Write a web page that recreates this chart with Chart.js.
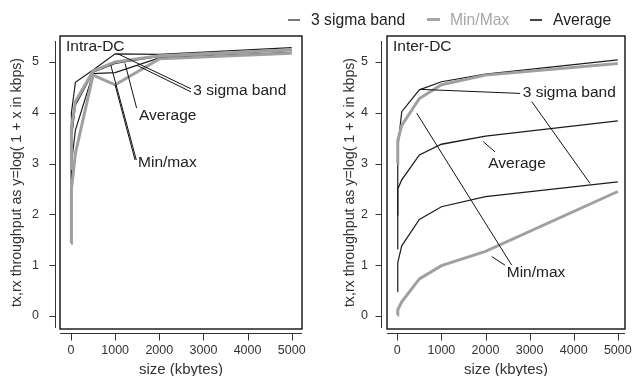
<!DOCTYPE html>
<html>
<head>
<meta charset="utf-8">
<script src="https://cdn.jsdelivr.net/npm/chart.js@4.4.1/dist/chart.umd.min.js"></script>
<style>
html,body{margin:0;padding:0;background:#fff;}
#wrap{position:relative;width:632px;height:376px;overflow:hidden;background:#fff;font-family:"Liberation Sans",Arial,sans-serif;}
.pane{position:absolute;top:0;width:316px;height:376px;}
.lg{position:absolute;}
.lgt{position:absolute;top:10px;font-size:15.7px;line-height:20px;white-space:nowrap;}
</style>
</head>
<body>
<div id="wrap">
  <div class="pane" style="left:0"><canvas id="c1" width="316" height="376"></canvas></div>
  <div class="pane" style="left:316px"><canvas id="c2" width="316" height="376"></canvas></div>
  <div id="legend">
    <span class="lg" style="left:288px;top:19px;width:12px;height:2px;background:#777"></span>
    <span class="lgt" id="lg1" style="left:311px;color:#222"></span>
    <span class="lg" style="left:427px;top:18px;width:13px;height:3px;background:#a6a6a6"></span>
    <span class="lgt" id="lg2" style="left:450px;color:#a6a6a6"></span>
    <span class="lg" style="left:530px;top:19px;width:12px;height:2px;background:#444"></span>
    <span class="lgt" id="lg3" style="left:553px;color:#222"></span>
  </div>
</div>
<script>
// ---------- data ----------
const sizes = [1, 10, 100, 500, 1000, 2000, 5000];
const xTicks = [0, 1000, 2000, 3000, 4000, 5000];
const yTicks = [0, 1, 2, 3, 4, 5];
const legendNames = ["3 sigma band", "Min/Max", "Average"];

// Intra-DC
const intraMin   = [1.43, 2.5, 3.2, 4.74, 4.55, 5.06, 5.17];
const intraLower = [1.9, 3.0, 3.66, 4.77, 4.79, 5.08, 5.19];
const intraAvg   = [2.25, 3.5, 4.15, 4.8, 4.97, 5.11, 5.23];
const intraUpper = [2.6, 4.0, 4.6, 4.84, 5.16, 5.15, 5.28];
const intraMax   = [2.9, 3.7, 4.22, 4.82, 5.0, 5.12, 5.24];

// Inter-DC
const interMin   = [0.02, 0.12, 0.28, 0.73, 0.99, 1.27, 2.45];
const interLower = [0.48, 1.05, 1.38, 1.9, 2.15, 2.35, 2.64];
const interAvg   = [1.99, 2.5, 2.68, 3.17, 3.38, 3.54, 3.84];
const interUpper = [1.32, 3.3, 4.02, 4.45, 4.61, 4.76, 5.04];
const interMax   = [3.0, 3.45, 3.75, 4.28, 4.55, 4.74, 4.97];

// annotation texts and leader anchors (data units)
const intraNotes = [
  {text: "3 sigma band", at: [2770, 4.44], lines: [[[2720, 4.47], [1060, 5.16]], [[2720, 4.41], [1500, 4.93]]]},
  {text: "Average", at: [1540, 3.94], lines: [[[1487, 4.09], [1224, 4.97]]]},
  {text: "Min/max", at: [1520, 3.01], lines: [[[1451, 3.07], [998, 4.55]], [[1480, 3.07], [900, 4.94]]]}
];
const interNotes = [
  {text: "3 sigma band", at: [2844, 4.39], lines: [[[2785, 4.38], [515, 4.46]], [[3048, 4.22], [4370, 2.61]]]},
  {text: "Average", at: [2063, 2.99], lines: [[[1950, 3.43], [2215, 3.23]]]},
  {text: "Min/max", at: [2481, 0.86], lines: [[[2594, 1.0], [440, 3.99]], [[2442, 1.0], [2140, 1.17]]]}
];

document.getElementById('lg1').textContent = legendNames[0];
document.getElementById('lg2').textContent = legendNames[1];
document.getElementById('lg3').textContent = legendNames[2];

const FAM = '"Liberation Sans", Arial, sans-serif';
const GRAY = '#a0a0a0';
const BLACK = '#1c1c1c';

function pts(arr) { return sizes.map((s, i) => ({x: s, y: arr[i]})); }

const frame = {
  id: 'frame',
  afterDraw(chart, args, o) {
    const {ctx, chartArea: a, scales: {x, y}} = chart;
    ctx.save();
    // box
    ctx.strokeStyle = '#111';
    ctx.lineWidth = 1.4;
    ctx.strokeRect(a.left, a.top, a.right - a.left, a.bottom - a.top);
    // detached axes
    ctx.lineWidth = 1;
    ctx.strokeStyle = '#333';
    ctx.beginPath();
    const ax = Math.round(a.left - o.yGap) + 0.5;
    ctx.moveTo(ax, a.top + 5); ctx.lineTo(ax, a.bottom - 1);
    y.ticks.forEach(t => { const py = Math.round(y.getPixelForValue(t.value)) + 0.5; ctx.moveTo(ax, py); ctx.lineTo(ax - 6, py); });
    const ay = Math.round(a.bottom + 4) + 0.5;
    ctx.moveTo(a.left, ay); ctx.lineTo(a.right, ay);
    x.ticks.forEach(t => { const px = Math.round(x.getPixelForValue(t.value)) + 0.5; ctx.moveTo(px, ay); ctx.lineTo(px, ay + 7); });
    ctx.stroke();
    // panel label
    ctx.fillStyle = '#222';
    ctx.font = '15.5px ' + FAM;
    ctx.textBaseline = 'middle';
    ctx.textAlign = 'left';
    ctx.fillText(o.label, a.left + 6, a.top + 11);
    // annotations
    ctx.strokeStyle = '#111';
    ctx.lineWidth = 1;
    ctx.beginPath();
    o.notes.forEach(n => {
      n.lines.forEach(l => {
        ctx.moveTo(x.getPixelForValue(l[0][0]), y.getPixelForValue(l[0][1]));
        ctx.lineTo(x.getPixelForValue(l[1][0]), y.getPixelForValue(l[1][1]));
      });
    });
    ctx.stroke();
    ctx.fillStyle = '#222';
    o.notes.forEach(n => {
      ctx.fillText(n.text, x.getPixelForValue(n.at[0]), y.getPixelForValue(n.at[1]));
    });
    ctx.restore();
  }
};

function makeChart(id, d, cfg) {
  const thin = (data) => ({data: pts(data), borderColor: BLACK, borderWidth: 1.2, pointRadius: 0, fill: false, tension: 0});
  const thick = (data) => ({data: pts(data), borderColor: GRAY, borderWidth: 3, pointRadius: 0, fill: false, tension: 0});
  return new Chart(document.getElementById(id), {
    type: 'line',
    data: {
      datasets: [
        Object.assign(thick(d.min), {label: 'Min'}),
        Object.assign(thick(d.max), {label: 'Max'}),
        Object.assign(thin(d.lower), {label: 'Lower 3 sigma'}),
        Object.assign(thin(d.upper), {label: 'Upper 3 sigma'}),
        Object.assign(thin(d.avg), {label: 'Average', borderWidth: 1.3})
      ]
    },
    options: {
      responsive: false,
      animation: false,
      layout: {padding: {left: 0, right: cfg.padRight, top: 36, bottom: 0}},
      plugins: {
        legend: {display: false},
        tooltip: {enabled: false},
        frame: {yGap: cfg.yGap, label: cfg.label, notes: cfg.notes}
      },
      scales: {
        x: {
          type: 'linear', min: cfg.xMin, max: cfg.xMax,
          afterBuildTicks: s => { s.ticks = xTicks.map(v => ({value: v})); },
          afterFit: s => { s.height = 47; s.paddingLeft = 0; s.paddingRight = 0; },
          grid: {display: false, drawTicks: false},
          border: {display: false},
          ticks: {padding: 14, color: '#333', font: {size: 12.5, family: FAM}, maxRotation: 0, autoSkip: false, callback: v => String(v)},
          title: {display: true, text: 'size (kbytes)', color: '#333', font: {size: 15, family: FAM, lineHeight: 0.8}, padding: {top: 0, bottom: 0}}
        },
        y: {
          type: 'linear', min: -0.256, max: 5.51,
          afterBuildTicks: s => { s.ticks = yTicks.map(v => ({value: v})); },
          afterFit: s => { s.width = cfg.yWidth; s.paddingTop = 0; s.paddingBottom = 0; },
          grid: {display: false, drawTicks: false},
          border: {display: false},
          ticks: {padding: cfg.yPad, color: '#333', font: {size: 12.5, family: FAM}, autoSkip: false, callback: v => String(v)},
          title: {display: true, text: 'tx,rx throughput as y=log( 1 + x in kbps)', color: '#333', font: {size: 14.2, family: FAM, lineHeight: 1}, padding: {top: cfg.yTitlePad, bottom: 0}}
        }
      }
    },
    plugins: [frame]
  });
}

makeChart('c1',
  {min: intraMin, lower: intraLower, avg: intraAvg, upper: intraUpper, max: intraMax},
  {xMin: -249, xMax: 5233, padRight: 14, yWidth: 60, yPad: 21, yGap: 5, yTitlePad: 10, label: 'Intra-DC', notes: intraNotes});
makeChart('c2',
  {min: interMin, lower: interLower, avg: interAvg, upper: interUpper, max: interMax},
  {xMin: -234, xMax: 5163, padRight: 7, yWidth: 71, yPad: 19, yGap: 6, yTitlePad: 27, label: 'Inter-DC', notes: interNotes});
</script>
</body>
</html>
